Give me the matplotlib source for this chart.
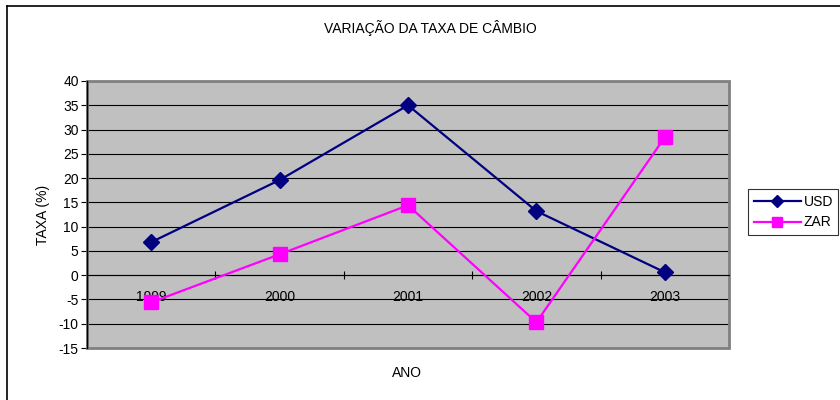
import matplotlib.pyplot as plt
from matplotlib.patches import Rectangle
from matplotlib.lines import Line2D

plt.rcParams['font.family'] = ['Liberation Sans', 'DejaVu Sans']
plt.rcParams['axes.unicode_minus'] = False

anos = ['1999', '2000', '2001', '2002', '2003']
usd = [6.8, 19.6, 35.0, 13.2, 0.6]
zar = [-5.6, 4.3, 14.4, -9.7, 28.4]
yticks = list(range(-15, 45, 5))

fig = plt.figure(figsize=(8.4, 4.0), dpi=100)
ax = fig.add_axes([87 / 840, 1 - 348 / 400, (729 - 87) / 840, (348 - 81) / 400])
ax.set_facecolor('#C0C0C0')

x = list(range(len(anos)))
ax.plot(x, usd, color='#000080', lw=1.6, marker='D', ms=8, label='USD', zorder=4, clip_on=False)
ax.plot(x, zar, color='#FF00FF', lw=1.6, marker='s', ms=10, label='ZAR', zorder=4, clip_on=False)

ax.set_xlim(-0.5, len(anos) - 0.5)
ax.set_ylim(-15, 40)
ax.set_yticks(yticks)
ax.yaxis.grid(True, color='black', lw=0.8)
ax.set_axisbelow(True)

# x axis crosses at zero
ax.spines['bottom'].set_position(('data', 0))
ax.spines['bottom'].set_color('black')
ax.spines['bottom'].set_linewidth(0.8)
for s in ['top', 'right']:
    ax.spines[s].set_visible(False)
ax.spines['left'].set_color('black')
ax.spines['left'].set_linewidth(1.0)
ax.add_patch(Rectangle((0, 0), 1, 1, transform=ax.transAxes, fill=False,
                       edgecolor='#808080', lw=2, zorder=1.5, clip_on=False))

ax.set_xticks(x)
ax.set_xticklabels(anos)
ax.set_xticks([i + 0.5 for i in x], minor=True)
ax.tick_params(axis='x', which='major', length=0, pad=11, labelsize=10)
ax.tick_params(axis='x', which='minor', length=6, direction='inout', width=0.8)
ax.tick_params(axis='y', length=4, width=0.8, labelsize=10, pad=2)

ax.set_ylabel('TAXA (%)', fontsize=10, labelpad=6)
fig.text(407 / 840, 1 - 373 / 400, 'ANO', ha='center', va='center', fontsize=10)
fig.text(430 / 840, 1 - 28 / 400, 'VARIAÇÃO DA TAXA DE CÂMBIO', ha='center', va='center', fontsize=10)

leg = fig.legend(loc='upper left', bbox_to_anchor=(748 / 840, 1 - 189 / 400), fancybox=False,
                 edgecolor='black', fontsize=10, handlelength=3.4, handletextpad=0.2,
                 borderpad=0.4, labelspacing=0.5, borderaxespad=0, markerscale=0.75)
leg.get_frame().set_linewidth(0.8)

# outer chart border (only top and left are visible)
fig.add_artist(Line2D([7 / 840, 1], [1 - 6 / 400, 1 - 6 / 400], color='black', lw=1.2, transform=fig.transFigure))
fig.add_artist(Line2D([7 / 840, 7 / 840], [0, 1 - 6 / 400], color='black', lw=1.2, transform=fig.transFigure))

fig.savefig('out.png', dpi=100)
